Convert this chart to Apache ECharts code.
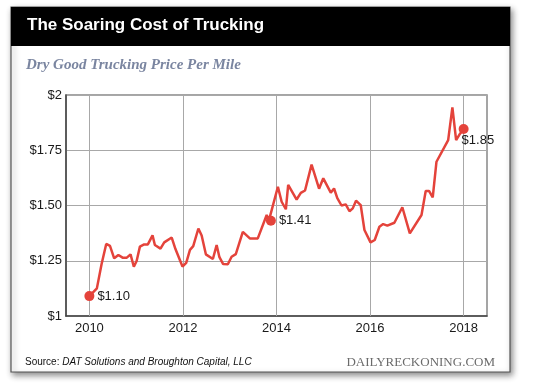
<!DOCTYPE html>
<html>
<head>
<meta charset="utf-8">
<script src="https://cdn.jsdelivr.net/npm/echarts@6/dist/echarts.min.js"></script>
<style>
html,body{margin:0;padding:0;background:#fff;}
#c{width:540px;height:386px;}
</style>
</head>
<body>
<div id="c"></div>
<script>
// ---- data ----
const years = [2010.00,2010.16,2010.26,2010.36,2010.44,2010.53,2010.62,2010.71,2010.80,2010.88,2010.95,
  2011.01,2011.08,2011.17,2011.25,2011.35,2011.40,2011.52,2011.60,2011.76,2011.84,2011.99,
  2012.07,2012.15,2012.22,2012.33,2012.40,2012.49,2012.64,2012.72,2012.78,2012.86,2012.96,
  2013.04,2013.13,2013.28,2013.43,2013.60,2013.79,2013.84,2013.88,
  2014.03,2014.11,2014.20,2014.25,2014.43,2014.52,2014.61,2014.75,2014.91,
  2015.00,2015.16,2015.23,2015.30,2015.39,2015.48,2015.56,2015.63,2015.70,2015.80,2015.88,
  2016.01,2016.10,2016.20,2016.28,2016.37,2016.52,2016.69,2016.85,
  2017.10,2017.19,2017.26,2017.34,2017.42,2017.67,2017.76,2017.84,2017.92,2018.00];
const prices = [1.09,1.125,1.234,1.326,1.317,1.261,1.276,1.264,1.264,1.279,1.223,
  1.249,1.314,1.324,1.324,1.365,1.321,1.305,1.333,1.355,1.303,1.224,
  1.240,1.299,1.316,1.396,1.364,1.279,1.258,1.321,1.266,1.235,1.234,
  1.268,1.280,1.381,1.351,1.351,1.457,1.434,1.431,
  1.585,1.517,1.483,1.593,1.527,1.557,1.568,1.685,1.576,
  1.623,1.558,1.577,1.533,1.500,1.505,1.474,1.487,1.522,1.502,1.389,
  1.333,1.344,1.404,1.416,1.409,1.422,1.492,1.374,
  1.457,1.566,1.566,1.537,1.698,1.796,1.944,1.796,1.824,1.846];
const annotYears = [2010.00, 2013.88, 2018.00];
const annotLabels = ['$1.10', '$1.41', '$1.85'];
const yTicks = [1, 1.25, 1.5, 1.75, 2];
const yTickLabels = ['$1', '$1.25', '$1.50', '$1.75', '$2'];
const xTickYears = [2010, 2012, 2014, 2016, 2018];
const titleText = 'The Soaring Cost of Trucking';
const subtitleText = 'Dry Good Trucking Price Per Mile';
const sourceLabel = 'Source:';
const sourceText = 'DAT Solutions and Broughton Capital, LLC';
const brandText = 'DAILYRECKONING.COM';

// ---- chart ----
const RED = '#e4433b';
const SANS = '"Liberation Sans", Arial, Helvetica, sans-serif';
const SERIF = '"Liberation Serif", "Times New Roman", serif';

const lineData = years.map((y, i) => [y, prices[i]]);
const annotPos = ['right', 'right', [3, 10]];
const annotData = annotYears.map((y, k) => {
  const i = years.indexOf(y);
  return {
    value: [y, prices[i]],
    label: {show: true, formatter: annotLabels[k], position: annotPos[k], distance: 3}
  };
});

const chart = echarts.init(document.getElementById('c'), null, {renderer: 'canvas'});
chart.setOption({
  animation: false,
  backgroundColor: '#fff',
  graphic: {
    elements: [
      {type: 'rect', z: -10, shape: {x: 11, y: 7, width: 499, height: 365},
        style: {fill: '#fff', stroke: '#555', lineWidth: 1.2,
          shadowBlur: 6, shadowOffsetX: 2, shadowOffsetY: 3, shadowColor: 'rgba(0,0,0,0.45)'}},
      {type: 'rect', z: -9, shape: {x: 11, y: 7, width: 499, height: 39},
        style: {fill: '#000'}}
    ]
  },
  title: [
    {text: titleText, left: 27, top: 17, padding: 0,
      textStyle: {color: '#fff', fontFamily: SANS, fontWeight: 'bold', fontSize: 17}},
    {text: subtitleText, left: 26, top: 58, padding: 0,
      textStyle: {color: '#7a85a0', fontFamily: SERIF, fontWeight: 'bold', fontStyle: 'italic', fontSize: 15}},
    {text: '{a|' + sourceLabel + '} {b|' + sourceText + '}', left: 25, top: 357, padding: 0,
      textStyle: {fontWeight: 'normal', fontSize: 10, rich: {
        a: {fontFamily: SANS, fontSize: 10, color: '#111', fontWeight: 'normal'},
        b: {fontFamily: SANS, fontSize: 10, color: '#111', fontStyle: 'italic', fontWeight: 'normal'}
      }}},
    {text: brandText, right: 45, top: 356, padding: 0,
      textStyle: {color: '#6b6b6b', fontFamily: SERIF, fontWeight: 'normal', fontSize: 13}}
  ],
  grid: {left: 66, right: 53, top: 95, bottom: 70, show: true,
    borderColor: '#888', borderWidth: 1.5, backgroundColor: 'transparent'},
  xAxis: {
    type: 'value', min: 2009.5, max: 2018.5, interval: 0.5,
    axisLine: {show: true, lineStyle: {color: '#444', width: 1.5}},
    axisTick: {show: false},
    splitLine: {show: false},
    axisLabel: {
      margin: 6, color: '#1a1a1a', fontFamily: SANS, fontSize: 13,
      showMinLabel: false, showMaxLabel: false,
      formatter: v => xTickYears.indexOf(v) >= 0 ? String(v) : ''
    }
  },
  yAxis: {
    type: 'value', min: 1, max: 2, interval: 0.25,
    axisLine: {show: true, lineStyle: {color: '#444', width: 1.5}},
    axisTick: {show: false},
    splitLine: {show: true, lineStyle: {color: '#a8a8a8', width: 1}},
    axisLabel: {
      margin: 4, color: '#1a1a1a', fontFamily: SANS, fontSize: 13,
      formatter: v => { const k = yTicks.indexOf(v); return k >= 0 ? yTickLabels[k] : ''; }
    }
  },
  series: [
    {
      type: 'line', data: lineData, showSymbol: false, symbol: 'none',
      lineStyle: {color: RED, width: 2.5}, z: 3,
      markLine: {
        silent: true, symbol: 'none', z: 1, animation: false,
        label: {show: false},
        lineStyle: {color: '#a8a8a8', width: 1, type: 'solid'},
        data: xTickYears.map(y => ({xAxis: y}))
      }
    },
    {
      type: 'scatter', data: annotData, symbolSize: 10, z: 4,
      itemStyle: {color: RED, opacity: 1},
      label: {color: '#1a1a1a', fontFamily: SANS, fontSize: 13}
    }
  ]
});
</script>
</body>
</html>
